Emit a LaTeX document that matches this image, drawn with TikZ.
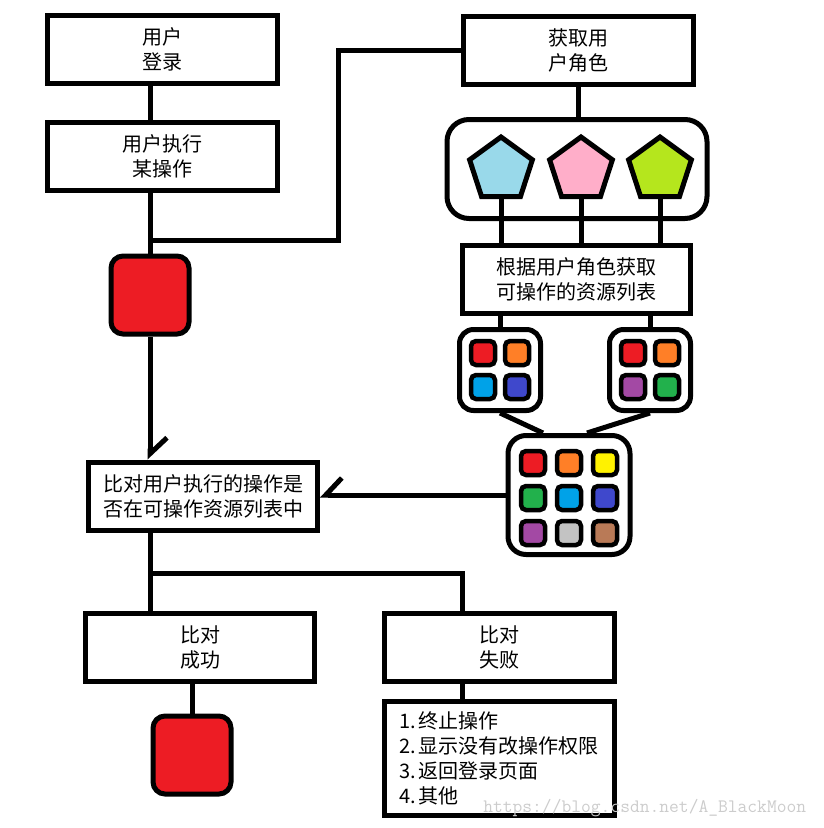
\documentclass[tikz,border=0pt]{standalone}
\usepackage{fontspec}
\newfontfamily\cjk{Noto Sans CJK SC}
\usetikzlibrary{shapes.geometric, arrows.meta}

% paint colours
\definecolor{pred}{HTML}{ED1C24}
\definecolor{porange}{HTML}{FF7F27}
\definecolor{pyellow}{HTML}{FFF200}
\definecolor{pgreen}{HTML}{22B14C}
\definecolor{pturq}{HTML}{00A2E8}
\definecolor{pindigo}{HTML}{3F48CC}
\definecolor{ppurple}{HTML}{A349A4}
\definecolor{pgray}{HTML}{C3C3C3}
\definecolor{pbrown}{HTML}{B97A57}
\definecolor{pblue}{HTML}{99D9EA}
\definecolor{ppink}{HTML}{FFAEC9}
\definecolor{plime}{HTML}{B5E61D}

\begin{document}
\begin{tikzpicture}[x=1pt, y=-1pt, line width=5pt,
  box/.style={draw, minimum width=230pt, minimum height=68pt, inner sep=0pt,
    align=center, font=\cjk\fontsize{20}{25}\selectfont},
  redbox/.style={draw, fill=pred, rounded corners=12pt, minimum size=78pt},
  panel/.style={draw, rounded corners=14pt, inner sep=0pt},
  role/.style={draw, regular polygon, regular polygon sides=5, minimum size=66pt, inner sep=0pt},
  swatch/.style={draw, line width=4.5pt, rounded corners=5pt, minimum size=24pt, inner sep=0pt},
  barbL/.style={-{Straight Barb[harpoon, length=16pt, width=34pt]}},
  barbR/.style={-{Straight Barb[harpoon, swap, length=16pt, width=34pt]}}]
\useasboundingbox (0,0) rectangle (823,828);
% left column
\node[box] (login) at (162,49) {用户\\登录};
\node[box] (action) at (162,156) {用户执行\\某操作};
\node[redbox] (red1) at (150,295) {};
\node[box, minimum width=229pt] (check) at (203,496) {比对用户执行的操作是\\否在可操作资源列表中};
\node[box, minimum width=229pt] (success) at (200,647) {比对\\成功};
\node[redbox] (red2) at (192,755) {};
\node[box] (fail) at (499,647) {比对\\失败};
\node[box, minimum height=114pt, align=left] (list) at (499,758)
  {1.\,终止操作\\2.\,显示没有改操作权限\\3.\,返回登录页面\\4.\,其他};
% right column
\node[box] (role) at (578,50) {获取用\\户角色};
\node[panel, rounded corners=22pt, minimum width=260pt, minimum height=99pt] (roles) at (577,169) {};
\node[role, fill=pblue] (p1) at (501,170) {};
\node[role, fill=ppink] (p2) at (581,170) {};
\node[role, fill=plime] (p3) at (660,170) {};
\node[box, minimum width=228pt] (res) at (576,279) {根据用户角色获取\\可操作的资源列表};
\node[panel, minimum size=81pt] (grid1) at (500,370) {};
\node[panel, minimum size=81pt] (grid2) at (650,370) {};
\node[panel, rounded corners=18pt, minimum width=122pt, minimum height=119pt] (big) at (569,495) {};
% swatches
\foreach \dx/\dy/\col [count=\i] in {-17/-17/pred, 17/-17/porange, -17/17/pturq, 17/17/pindigo}
  \node[swatch, fill=\col] (a\i) at (500+\dx,370+\dy) {};
\foreach \dx/\dy/\col [count=\i] in {-17/-17/pred, 17/-17/porange, -17/17/ppurple, 17/17/pgreen}
  \node[swatch, fill=\col] (b\i) at (650+\dx,370+\dy) {};
\foreach \dx/\dy/\col [count=\i] in {-36/-34/pred, 0/-34/porange, 36/-34/pyellow,
    -36/1/pgreen, 0/1/pturq, 36/1/pindigo, -36/36/ppurple, 0/36/pgray, 36/36/pbrown}
  \node[swatch, fill=\col] (c\i) at (569+\dx,497+\dy) {};
% connectors
\coordinate (split) at (150,240);
\coordinate (fork) at (150,573);
\draw (login.south -| red1) -- (action.north -| red1);
\draw (action.south -| red1) -- (red1.north);
\draw (split) -- ++(188,0) |- (role.west);
\draw[barbL] (red1.south) -- (red1.south |- check.north);
\draw (role.south) -- (role.south |- roles.north);
\foreach \p in {p1,p2,p3}
  \draw (\p.south) -- (\p.south |- res.north);
\draw (grid1.north |- res.south) -- (grid1.north);
\draw (grid2.north |- res.south) -- (grid2.north);
\draw (grid1.south) -- ([xshift=-26pt]big.north);
\draw (grid2.south) -- ([xshift=18pt]big.north);
\draw[barbR] (big.west) -- (big.west -| check.east);
\draw (check.south -| red1) -- (success.north -| red1);
\draw (fork) -| ([xshift=-37pt]fail.north);
\draw (red2.north |- success.south) -- (red2.north);
\draw ([xshift=-37pt]fail.south) -- ([xshift=-37pt]list.north);
% watermark
\node[anchor=east, font=\ttfamily\fontsize{19}{22}\selectfont, text=black!20] (mark) at (812,808) {https://blog.csdn.net/A\_BlackMoon};
\end{tikzpicture}
\end{document}
